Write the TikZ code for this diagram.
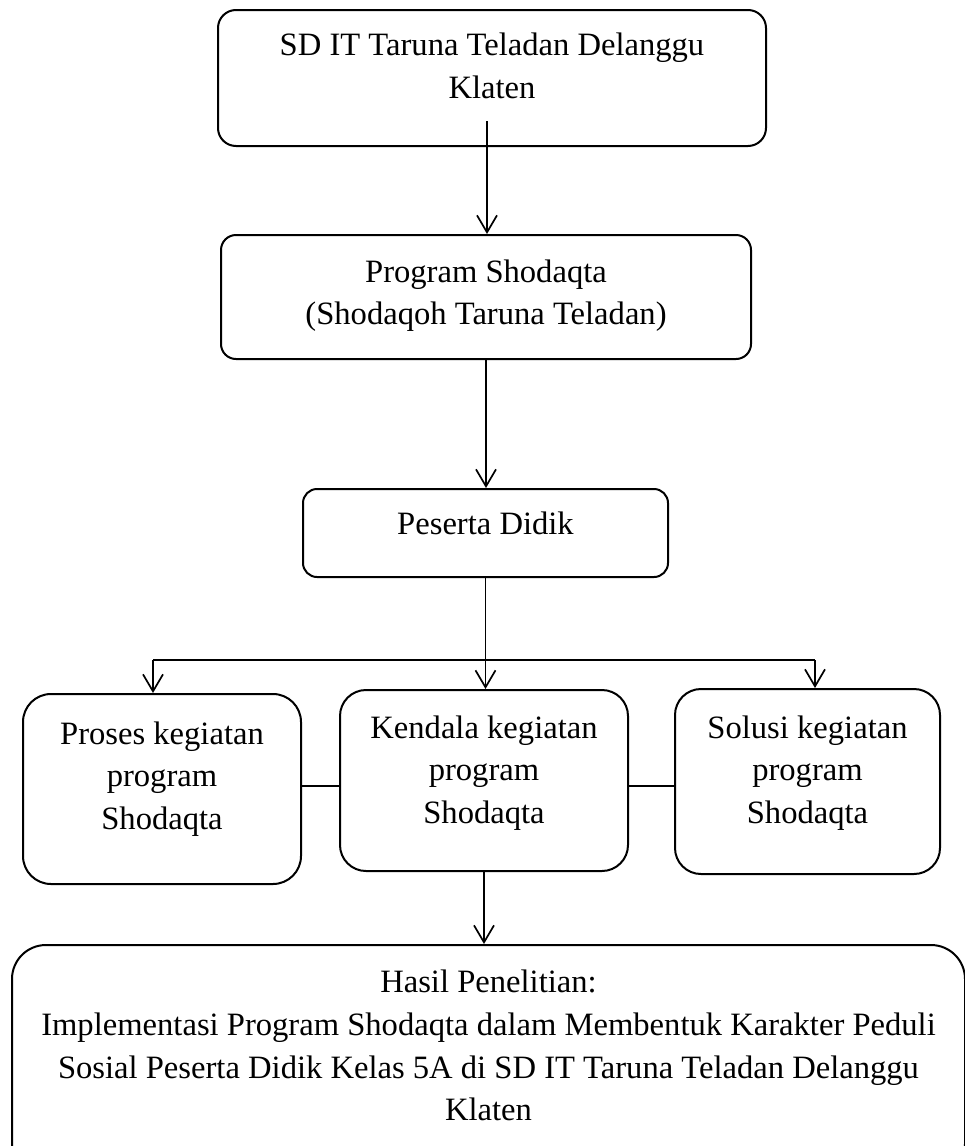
\documentclass[tikz,border=0pt]{standalone}
\usepackage{fontspec}
\setmainfont{Liberation Serif}
\usetikzlibrary{positioning,arrows.meta,calc}

\tikzset{
  kotak/.style={draw, line width=1pt, rounded corners=#1, align=center, inner sep=0pt},
  kotak/.default=9pt
}

\begin{document}
\begin{tikzpicture}[>={Straight Barb[length=8.5pt,width=10pt]}, line width=0.85pt, font=\fontsize{16.3pt}{21.3pt}\selectfont]
    \useasboundingbox (0,0) rectangle (482pt,-573pt);

    \node (inst) [kotak, minimum width=274pt, minimum height=68pt, text depth=12.5pt] at (246pt,-39pt) {SD IT Taruna Teladan Delanggu\\Klaten};
    \node (prog) [kotak=7.5pt, minimum width=265pt, minimum height=62pt, text depth=5pt, below=43.5pt of inst, xshift=-3pt] {Program Shodaqta\\(Shodaqoh Taruna Teladan)};
    \node (peserta) [kotak=7pt, minimum width=182.5pt, minimum height=44pt, text depth=10pt, below=64pt of prog, xshift=-0.25pt] {Peserta Didik};

    \node (kendala) [kotak=13pt, minimum width=144pt, minimum height=90.5pt, text depth=11pt, below=55.5pt of peserta, xshift=-0.75pt] {Kendala kegiatan\\program\\Shodaqta};
    \node (proses) [kotak=14pt, minimum width=139pt, minimum height=95pt, text depth=13.5pt, left=18.5pt of kendala, yshift=-4.25pt] {Proses kegiatan\\program\\Shodaqta};
    \node (solusi) [kotak=13pt, minimum width=132.5pt, minimum height=92.5pt, text depth=12pt, right=22.5pt of kendala, yshift=-0.5pt] {Solusi kegiatan\\program\\Shodaqta};

    \node (hasil) [kotak=17pt, minimum width=476.5pt, minimum height=116.5pt, text depth=16pt, below=36pt of kendala, xshift=2.25pt] {Hasil Penelitian:\\Implementasi Program Shodaqta dalam Membentuk Karakter Peduli\\Sosial Peserta Didik Kelas 5A di SD IT Taruna Teladan Delanggu\\Klaten};

    \coordinate (a1) at ([xshift=-2.5pt, yshift=13pt]inst.south);
    \coordinate (fork) at (peserta.south |- 0,-330pt);
    \coordinate (forkl) at (76.5pt,-330pt);
    \coordinate (forkr) at (407.5pt,-330pt);

    % Create edge connections
    \draw[->] (a1) -- (a1 |- prog.north);
    \draw[->] (prog.south) -- (prog.south |- peserta.north);
    \draw (peserta.south) -- (fork);
    \draw (forkl) -- (forkr);
    \draw[->] (forkl) -- (forkl |- proses.north);
    \draw[->] (fork) -- (fork |- kendala.north);
    \draw[->] (forkr) -- (forkr |- solusi.north);

    \draw ([yshift=-2.75pt]kendala.west -| proses.east) -- ([yshift=-2.75pt]kendala.west);
    \draw ([yshift=-2.75pt]kendala.east) -- ([yshift=-2.75pt]kendala.east -| solusi.west);

    \draw[->] (kendala.south) -- (kendala.south |- hasil.north);
\end{tikzpicture}
\end{document}
